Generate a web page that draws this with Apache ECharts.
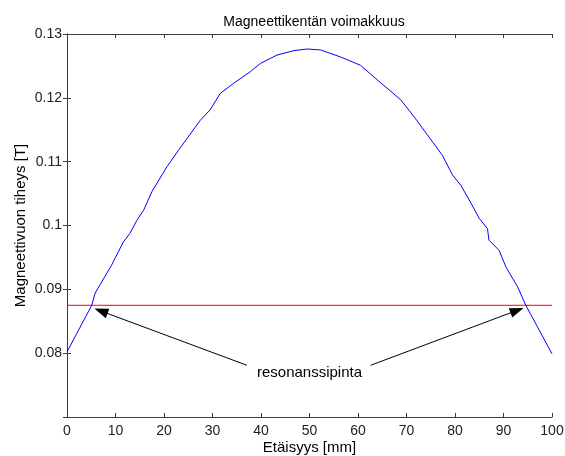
<!DOCTYPE html>
<html>
<head>
<meta charset="utf-8">
<script src="https://cdn.jsdelivr.net/npm/echarts@6/dist/echarts.min.js"></script>
<style>
  html, body { margin: 0; padding: 0; background: #fff; }
  #chart { width: 565px; height: 456px; }
</style>
</head>
<body>
<div id="chart"></div>
<script>
// Distance along the gap [mm] and measured flux density [T]
const distance = [0, 5.1, 5.8, 6.8, 9.2, 11.6, 13.0, 14.4, 15.8, 17.5, 20.6, 23.0, 27.5, 29.5, 31.6,
  34.4, 37.8, 39.9, 43.3, 46.8, 49.5, 52.3, 56.4, 60.5, 64.0, 68.8, 71.6, 74.3, 77.4, 79.5,
  81.2, 83.3, 85.0, 86.7, 87.0, 89.1, 90.5, 92.9, 94.6, 100];
const fluxDensity = [0.0802, 0.0875, 0.0894, 0.0907, 0.0938, 0.0974, 0.0988, 0.1008, 0.1024, 0.1053,
  0.1092, 0.1118, 0.1165, 0.1181, 0.1207, 0.1223, 0.1241, 0.1254, 0.1267, 0.1274, 0.12765,
  0.1275, 0.1264, 0.1251, 0.1228, 0.1197, 0.1170, 0.1142, 0.1110, 0.1079, 0.1063, 0.1035,
  0.1011, 0.0995, 0.0977, 0.0961, 0.0935, 0.0904, 0.0875, 0.0799];

// Resonance surface level [T]
const resonanceLevel = 0.0875;
const resonanceLabel = 'resonanssipinta';

// Axis ranges and tick spacing
const xRange = [0, 100];
const xStep = 10;
const yRange = [0.07, 0.13];
const yStep = 0.01;

// Arrow endpoints [x, y] from the label to the two resonance crossings
const arrowLeft = [[37.1, 0.0781], [7.0, 0.0866]];
const arrowRight = [[62.6, 0.0781], [92.8, 0.0867]];
const labelPos = [50, 0.0769];

const axisColor = '#3c3c3c';
const font = 'Liberation Sans, Arial, Helvetica, sans-serif';

const points = distance.map((d, i) => [d, fluxDensity[i]]);

const chart = echarts.init(document.getElementById('chart'));

const tickCommon = {
  axisLine: { show: true, lineStyle: { color: axisColor, width: 1 } },
  axisTick: { show: true, inside: true, length: 4, lineStyle: { color: axisColor } },
  splitLine: { show: false }
};

chart.setOption({
  animation: false,
  backgroundColor: '#fff',
  title: {
    text: 'Magneettikentän voimakkuus',
    left: 309, top: 10, textAlign: 'center',
    textStyle: { fontFamily: font, fontSize: 14, fontWeight: 'normal', color: '#000' }
  },
  grid: { left: 67, right: 13, top: 34, bottom: 39, containLabel: false, outerBoundsMode: 'none' },
  xAxis: [
    Object.assign({
      type: 'value', min: xRange[0], max: xRange[1], interval: xStep, position: 'bottom',
      name: 'Etäisyys [mm]', nameLocation: 'middle', nameGap: 23, nameMoveOverlap: false,
      nameTextStyle: { fontFamily: font, fontSize: 15, color: '#000' },
      axisLabel: { fontFamily: font, fontSize: 14, color: '#222', margin: 7 }
    }, tickCommon),
    Object.assign({
      type: 'value', min: xRange[0], max: xRange[1], interval: xStep, position: 'top',
      axisLabel: { show: false }
    }, tickCommon)
  ],
  yAxis: [
    Object.assign({
      type: 'value', min: yRange[0], max: yRange[1], interval: yStep, position: 'left',
      name: 'Magneettivuon tiheys [T]', nameLocation: 'middle', nameGap: 39, nameMoveOverlap: false,
      nameTextStyle: { fontFamily: font, fontSize: 15, color: '#000' },
      axisLabel: {
        fontFamily: font, fontSize: 14, color: '#222', margin: 5,
        formatter: v => (v < yRange[0] + yStep / 2 ? '' : String(parseFloat(v.toFixed(2))))
      }
    }, tickCommon),
    Object.assign({
      type: 'value', min: yRange[0], max: yRange[1], interval: yStep, position: 'right',
      axisLabel: { show: false }
    }, tickCommon)
  ],
  series: [
    {
      name: 'B',
      type: 'line',
      data: points,
      showSymbol: false,
      lineStyle: { color: '#0000ff', width: 1 },
      z: 3
    },
    {
      name: 'resonance',
      type: 'line',
      data: [[xRange[0], resonanceLevel], [xRange[1], resonanceLevel]],
      showSymbol: false,
      lineStyle: { color: '#ff0000', width: 1 },
      z: 2,
      markLine: {
        silent: true,
        symbol: ['none', 'triangle'],
        symbolSize: [10, 14],
        label: { show: false },
        lineStyle: { color: '#000', width: 1, type: 'solid' },
        data: [
          [{ coord: arrowLeft[0] }, { coord: arrowLeft[1] }],
          [{ coord: arrowRight[0] }, { coord: arrowRight[1] }]
        ]
      },
      markPoint: {
        silent: true,
        symbol: 'rect',
        symbolSize: [1, 1],
        itemStyle: { color: 'rgba(0,0,0,0)' },
        label: {
          show: true, position: 'inside', formatter: resonanceLabel,
          fontFamily: font, fontSize: 15, color: '#000'
        },
        data: [{ coord: labelPos }]
      }
    }
  ]
});
</script>
</body>
</html>
